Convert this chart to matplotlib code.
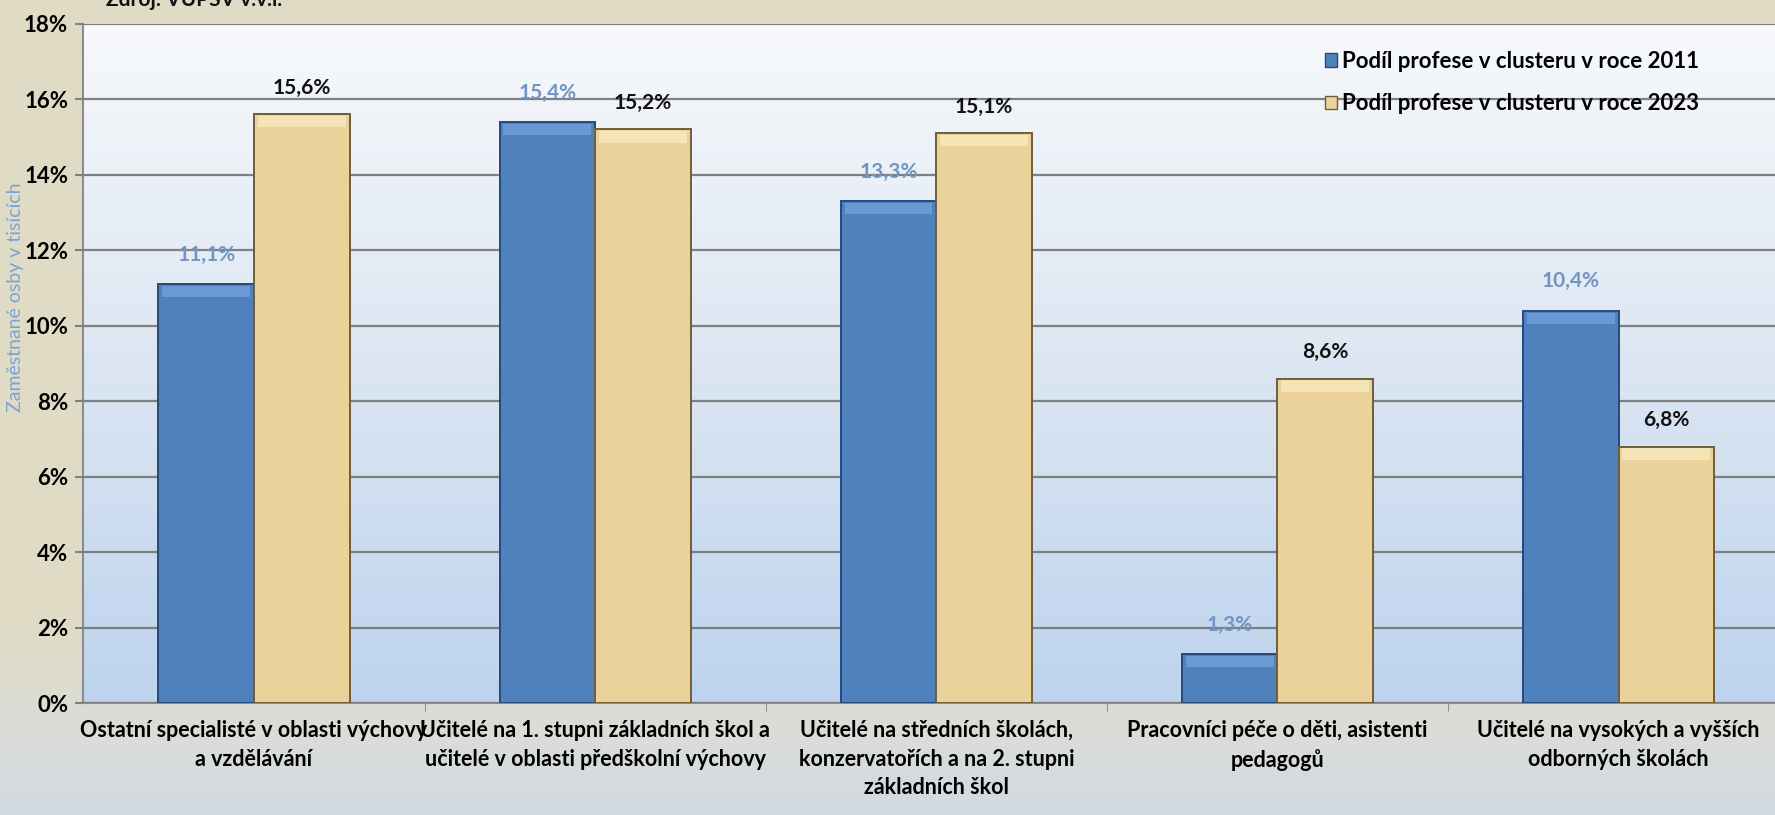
import numpy as np
import matplotlib.pyplot as plt
from matplotlib.colors import LinearSegmentedColormap
from matplotlib.patches import Patch

# data
categories = [
    'Ostatní specialisté v oblasti výchovy\na vzdělávání',
    'Učitelé na 1. stupni základních škol a\nučitelé v oblasti předškolní výchovy',
    'Učitelé na středních školách,\nkonzervatořích a na 2. stupni\nzákladních škol',
    'Pracovníci péče o děti, asistenti\npedagogů',
    'Učitelé na vysokých a vyšších\nodborných školách',
]
share_2011 = [11.1, 15.4, 13.3, 1.3, 10.4]
share_2023 = [15.6, 15.2, 15.1, 8.6, 6.8]
series_names = ['Podíl profese v clusteru v roce 2011',
                'Podíl profese v clusteru v roce 2023']
yticks = [0, 2, 4, 6, 8, 10, 12, 14, 16, 18]

plt.rcParams['font.family'] = ['Lato', 'DejaVu Sans']

fig = plt.figure(figsize=(17.75, 8.15), dpi=100)

# figure background: beige at top, grey-blue at bottom
bg = fig.add_axes([0, 0, 1, 1], zorder=-10)
bg_cmap = LinearSegmentedColormap.from_list(
    'bg', [(0, '#D2DAE2'), (0.12, '#DCDDD6'), (0.25, '#E0DBC4'), (1, '#E0DBC4')])
bg.imshow(np.linspace(0, 1, 256).reshape(-1, 1), aspect='auto', cmap=bg_cmap,
          origin='lower', extent=[0, 1, 0, 1])
bg.axis('off')

ax = fig.add_axes([0.047, 0.137, 0.961, 0.834])
ax.set_xlim(-0.5, 4.5)
ax.set_ylim(0, 18)

# plot area gradient: near white at top to light blue at bottom
area_cmap = LinearSegmentedColormap.from_list('area', ['#BDD3EE', '#DCE6F2', '#F7F9FC'])
ax.imshow(np.linspace(0, 1, 256).reshape(-1, 1), aspect='auto', cmap=area_cmap,
          origin='lower', extent=[-0.5, 4.5, 0, 18], zorder=0)

x = np.arange(len(categories))
w = 0.28
b1 = ax.bar(x - w / 2, share_2011, w, color='#4F81BD', edgecolor='#27497A',
            linewidth=1.4, zorder=3)
b2 = ax.bar(x + w / 2, share_2023, w, color='#EAD29A', edgecolor='#6E5E3A',
            linewidth=1.4, zorder=3)

# bevel highlight on the top of each bar
cap = 0.3
ax.bar(x - w / 2, [cap] * len(x), w * 0.92, bottom=np.array(share_2011) - cap - 0.05,
       color='#6A9AD3', linewidth=0, zorder=4)
ax.bar(x + w / 2, [cap] * len(x), w * 0.92, bottom=np.array(share_2023) - cap - 0.05,
       color='#F4E4B6', linewidth=0, zorder=4)

for rect, v in zip(b1, share_2011):
    ax.annotate(f'{v:.1f}%'.replace('.', ','), (rect.get_x() + rect.get_width() / 2, v),
                xytext=(0, 21), textcoords='offset points', ha='center', va='center',
                fontsize=15, fontweight='bold', color='#7395C2', zorder=6)
for rect, v in zip(b2, share_2023):
    ax.annotate(f'{v:.1f}%'.replace('.', ','), (rect.get_x() + rect.get_width() / 2, v),
                xytext=(0, 19), textcoords='offset points', ha='center', va='center',
                fontsize=15, fontweight='bold', color='#111111', zorder=6)

ax.set_yticks(yticks)
ax.set_yticklabels([f'{t}%' for t in yticks], fontsize=16, fontweight='bold')
ax.yaxis.grid(True, color='#7F7F7F', linewidth=1.6, zorder=1)
ax.set_axisbelow(False)
for gl in ax.get_ygridlines():
    gl.set_zorder(1)

ax.set_xticks(x)
ax.set_xticklabels(categories, fontsize=15.5, fontweight='bold', linespacing=1.45,
                   va='top')
ax.set_xticks(np.arange(0.5, 4.5, 1), minor=True)
ax.tick_params(axis='x', which='major', length=0, pad=12)
ax.tick_params(axis='x', which='minor', length=6, color='#7F7F7F')
ax.tick_params(axis='y', length=6, color='#7F7F7F', width=1.5, pad=5)

for side in ['top', 'right']:
    ax.spines[side].set_visible(False)
for side in ['left', 'bottom']:
    ax.spines[side].set_color('#8C8C8C')
    ax.spines[side].set_linewidth(1.5)

fig.text(0.009, 0.635, 'Zaměstnané osby v tisících', rotation=90, ha='center',
         va='center', fontsize=14, color='#7BA3D6')

fig.text(0.06, 1.003, 'Zdroj: VÚPSV v.v.i.', ha='left', va='center', fontsize=15,
         fontweight='bold', color='#111111')

handles = [Patch(facecolor='#4F81BD', edgecolor='#27497A'),
           Patch(facecolor='#EAD29A', edgecolor='#6E5E3A')]
fig.legend(handles, series_names, loc='upper left', bbox_to_anchor=(0.735, 0.962),
           frameon=False, handlelength=0.55, handleheight=0.55,
           handletextpad=0.25, labelspacing=0.95, prop={'weight': 'bold', 'size': 16})

fig.savefig('out.png', dpi=100)
